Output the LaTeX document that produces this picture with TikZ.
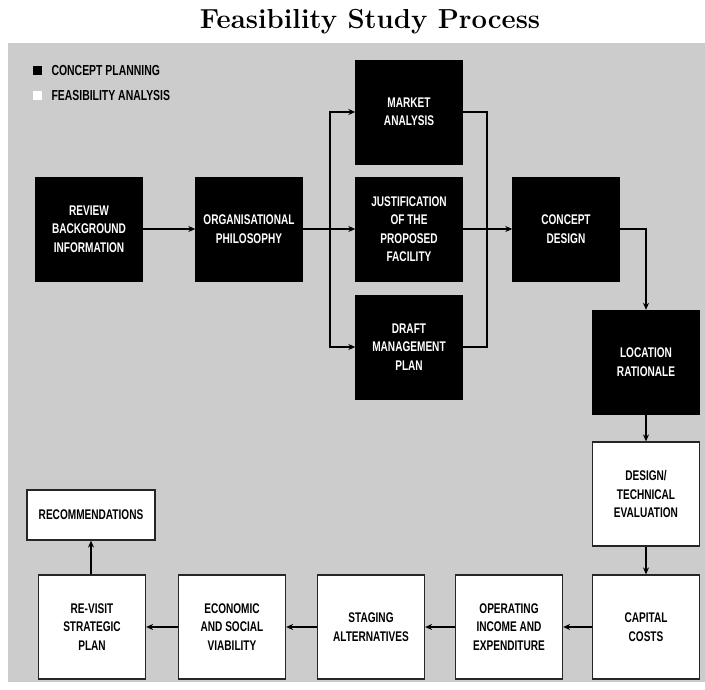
\documentclass[tikz,border=0pt]{standalone}
\usepackage{fontspec}
\newfontfamily\boxfont[FakeStretch=0.72]{Liberation Sans}
\usepackage{xcolor}
\usepackage{tikz}
\usetikzlibrary{positioning, arrows.meta}
\definecolor{panelgray}{RGB}{204,204,204}
\tikzset{
  planbox/.style={draw=black, fill=black, text=white, minimum width=107pt, minimum height=104pt,
    inner sep=0pt, align=center, font=\boxfont\bfseries\fontsize{14}{18.5}\selectfont},
  analysisbox/.style={planbox, draw=black!85, line width=1.2pt, fill=white, text=black},
  keytext/.style={anchor=west, font=\boxfont\bfseries\fontsize{14.5}{16}\selectfont},
  flow/.style={-{Stealth[length=7pt,width=6pt]}, line width=1.3pt},
  link/.style={line width=1.3pt}
}

\begin{document}
\begin{tikzpicture}[x=1pt,y=-1pt]
\useasboundingbox (0,0) rectangle (705,690);
% Background
\fill[panelgray] (8,43) rectangle (705,682);
\node (title) at (370,22) {\fontsize{27.5}{30}\selectfont\bfseries Feasibility Study Process};
% Legend
\fill[black] (33,66) rectangle (42,75);
\fill[white] (33,91) rectangle (42,100);
\node[keytext] (keyplan) at (48,71) {CONCEPT PLANNING};
\node[keytext] (keyanal) at (48,96) {FEASIBILITY ANALYSIS};
% Concept planning
\node[planbox] (review) at (89,229) {REVIEW\\BACKGROUND\\INFORMATION};
\node[planbox] (philosophy) at (249,229) {ORGANISATIONAL\\PHILOSOPHY};
\node[planbox] (market) at (409,112) {MARKET\\ANALYSIS};
\node[planbox] (justify) at (409,229) {JUSTIFICATION\\OF THE\\PROPOSED\\FACILITY};
\node[planbox] (draft) at (409,347) {DRAFT\\MANAGEMENT\\PLAN};
\node[planbox] (concept) at (566,229) {CONCEPT\\DESIGN};
\node[planbox] (location) at (646,362) {LOCATION\\RATIONALE};
% Feasibility analysis
\node[analysisbox] (technical) at (646,494) {DESIGN/\\TECHNICAL\\EVALUATION};
\node[analysisbox] (capital) at (646,627) {CAPITAL\\COSTS};
\node[analysisbox] (operating) at (509,627) {OPERATING\\INCOME AND\\EXPENDITURE};
\node[analysisbox] (staging) at (371,627) {STAGING\\ALTERNATIVES};
\node[analysisbox] (viability) at (232,627) {ECONOMIC\\AND SOCIAL\\VIABILITY};
\node[analysisbox] (revisit) at (92,627) {RE-VISIT\\STRATEGIC\\PLAN};
\node[analysisbox, minimum width=128pt, minimum height=50pt] (recommend) at (91,515) {RECOMMENDATIONS};
% Connectors
\coordinate (split) at (330,229);
\coordinate (merge) at (487,229);
\draw[flow] (review) -- (philosophy);
\draw[flow] (philosophy) -- (justify);
\draw[flow] (split) |- (market.west);
\draw[flow] (split) |- (draft.west);
\draw[link] (market.east) -| (merge);
\draw[link] (draft.east) -| (merge);
\draw[flow] (justify) -- (concept);
\draw[flow] (concept.east) -| (location.north);
\draw[flow] (location) -- (technical);
\draw[flow] (technical) -- (capital);
\draw[flow] (capital) -- (operating);
\draw[flow] (operating) -- (staging);
\draw[flow] (staging) -- (viability);
\draw[flow] (viability) -- (revisit);
\draw[flow] (revisit.north -| recommend.south) -- (recommend.south);
\end{tikzpicture}
\end{document}
